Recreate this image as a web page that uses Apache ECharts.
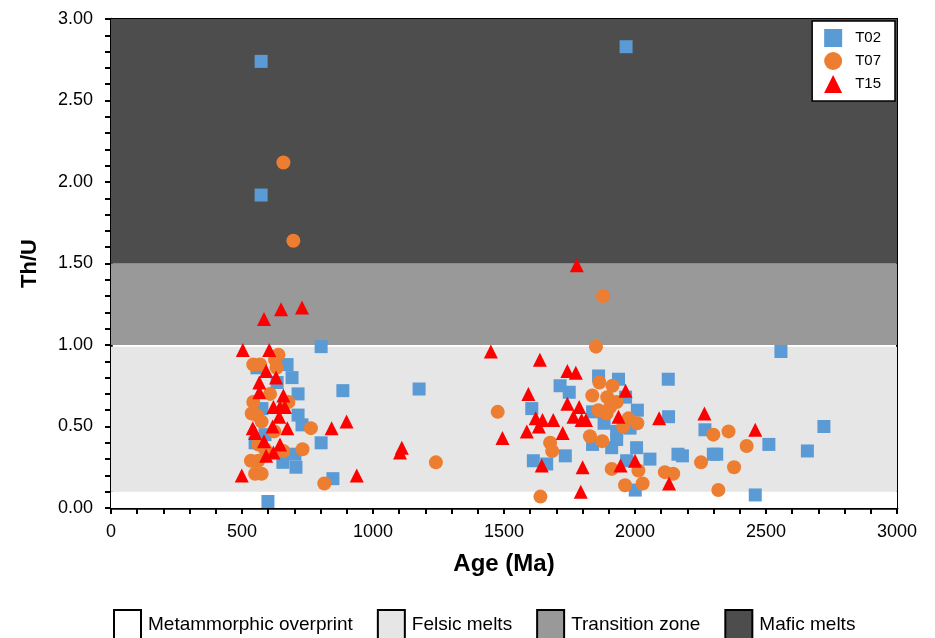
<!DOCTYPE html>
<html><head><meta charset="utf-8">
<script src="https://cdn.jsdelivr.net/npm/echarts@6/dist/echarts.min.js"></script>
<style>html,body{margin:0;padding:0;background:#fff}#c{width:935px;height:638px}</style>
</head><body><div id="c"></div>
<script>
// T02 (Ma, Th/U)
var t02 = [[573,2.74],[573,1.92],[1966,2.83],[802,0.99],[2557,0.96],[885,0.72],[1176,0.73],[599,0.04],[847,0.18],[802,0.40],
[672,0.88],[691,0.80],[634,0.77],[714,0.70],[714,0.57],[729,0.51],[702,0.33],[656,0.28],[706,0.25],[557,0.86],[550,0.40],[576,0.61],[588,0.45],
[1861,0.81],[1937,0.79],[1714,0.75],[1749,0.71],[2127,0.79],[1964,0.68],[1606,0.61],[1838,0.59],[2009,0.60],[2128,0.56],[1882,0.52],[1930,0.47],
[1981,0.49],[1838,0.39],[1911,0.37],[1930,0.42],[2006,0.37],[1612,0.29],[1663,0.27],[1734,0.32],[1968,0.29],[2057,0.30],[2001,0.11],[2164,0.33],
[2267,0.48],[2721,0.50],[2511,0.39],[2299,0.33],[2312,0.33],[2181,0.32],[2658,0.35],[2459,0.08]];
// T07
var t07 = [[658,2.12],[696,1.64],[1878,1.30],[1851,0.99],[1240,0.28],[1476,0.59],[814,0.15],[763,0.49],[731,0.36],
[639,0.94],[626,0.91],[543,0.88],[569,0.88],[632,0.86],[607,0.70],[543,0.65],[677,0.65],[537,0.58],[556,0.57],[562,0.39],[658,0.35],
[534,0.29],[562,0.29],[550,0.21],[575,0.21],[623,0.47],[575,0.53],[588,0.36],
[1864,0.77],[1914,0.75],[1837,0.69],[1894,0.68],[1930,0.65],[1860,0.60],[1892,0.58],[1905,0.62],[1975,0.55],[2009,0.52],[1955,0.50],
[1828,0.44],[1875,0.41],[1911,0.24],[2013,0.23],[1962,0.14],[2029,0.15],[2114,0.22],[1676,0.40],[1684,0.35],[1639,0.07],[2146,0.21],
[2299,0.45],[2357,0.47],[2426,0.38],[2252,0.28],[2378,0.25],[2318,0.11]];
// T15
var t15 = [[1778,1.49],[649,1.22],[729,1.23],[584,1.16],[1450,0.96],[503,0.97],[604,0.97],[592,0.84],[630,0.80],[566,0.77],[566,0.71],
[658,0.69],[620,0.62],[645,0.62],[664,0.62],[642,0.56],[541,0.49],[550,0.46],[617,0.50],[673,0.49],[842,0.49],[899,0.53],[584,0.41],
[645,0.39],[592,0.32],[620,0.34],[499,0.20],[938,0.20],[1110,0.37],[1103,0.34],
[1637,0.91],[1742,0.84],[1774,0.83],[1593,0.70],[1964,0.72],[1742,0.64],[1787,0.62],[1765,0.56],[1796,0.54],[1813,0.54],[1621,0.55],
[1647,0.54],[1633,0.50],[1688,0.54],[1587,0.47],[1724,0.46],[1937,0.56],[2092,0.55],[1494,0.43],[1644,0.26],[1800,0.25],[1945,0.26],
[2000,0.29],[1793,0.10],[2130,0.15],[2265,0.58],[2459,0.48]];
// Th/U fields
var bandNames = ['Metammorphic overprint','Felsic melts','Transition zone','Mafic melts'];
var bandLow = [0, 0.1, 1.0, 1.5];
var bandHigh = [0.1, 0.99, 1.5, 3.0];
var bandColors = ['#ffffff','#e6e6e6','#999999','#4d4d4d'];

var font = "'Liberation Sans',Arial,sans-serif";
var series = [];
bandNames.forEach(function(n,i){
  series.push({name:n,type:'scatter',data:[],silent:true,
    itemStyle:{color:bandColors[i],borderColor:'#000',borderWidth:1.5,opacity:1},
    markArea:{silent:true,itemStyle:{color:bandColors[i],borderWidth:0,opacity:1},
      data:[[{yAxis:bandLow[i]},{yAxis:bandHigh[i]}]]}});
});
series.push({name:'T02',type:'scatter',symbol:'rect',symbolSize:13,data:t02,itemStyle:{color:'#5b9bd5',opacity:1},z:3});
series.push({name:'T07',type:'scatter',symbol:'circle',symbolSize:14,data:t07,itemStyle:{color:'#ed7d31',opacity:1},z:4});
series.push({name:'T15',type:'scatter',symbol:'triangle',symbolSize:14,data:t15,itemStyle:{color:'#ff0000',opacity:1},z:5});

var chart = echarts.init(document.getElementById('c'));
chart.setOption({
  animation:false,
  backgroundColor:'#fff',
  grid:{left:111,right:38,top:19,bottom:130,show:true,borderColor:'#000',borderWidth:2,backgroundColor:'transparent'},
  xAxis:{type:'value',min:0,max:3000,interval:500,
    name:'Age (Ma)',nameLocation:'middle',nameGap:44,
    nameTextStyle:{fontFamily:font,fontSize:24,fontWeight:'bold',color:'#000'},
    axisLine:{lineStyle:{color:'#000',width:2.5}},
    axisTick:{show:true,length:6,lineStyle:{color:'#000',width:2}},
    minorTick:{show:true,splitNumber:5,length:6,lineStyle:{color:'#000',width:2}},
    splitLine:{show:false},
    axisLabel:{fontFamily:font,fontSize:18,color:'#000',margin:15,formatter:function(v){return String(v);}}},
  yAxis:{type:'value',min:0,max:3,interval:0.5,
    name:'Th/U',nameLocation:'middle',nameGap:70,
    nameTextStyle:{fontFamily:font,fontSize:22,fontWeight:'bold',color:'#000'},
    axisLine:{show:true,lineStyle:{color:'#000',width:2.5}},
    axisTick:{show:true,length:6,lineStyle:{color:'#000',width:2}},
    minorTick:{show:true,splitNumber:5,length:6,lineStyle:{color:'#000',width:2}},
    splitLine:{show:false},
    axisLabel:{fontFamily:font,fontSize:18,color:'#000',margin:18,formatter:function(v){return v.toFixed(2);}}},
  legend:[
    {data:['T02','T07','T15'],orient:'vertical',right:40,top:21,
     backgroundColor:'#fff',borderColor:'#000',borderWidth:1.5,padding:[8,14,8,12],
     itemWidth:18,itemHeight:18,itemGap:5,
     textStyle:{fontFamily:font,fontSize:15,color:'#000',padding:[0,0,0,8]}},
    {data:bandNames,orient:'horizontal',left:108,top:604,icon:'rect',
     itemWidth:27,itemHeight:30,itemGap:24,
     textStyle:{fontFamily:font,fontSize:19,color:'#000',padding:[0,0,0,2]}}
  ],
  series:series
});
</script></body></html>
